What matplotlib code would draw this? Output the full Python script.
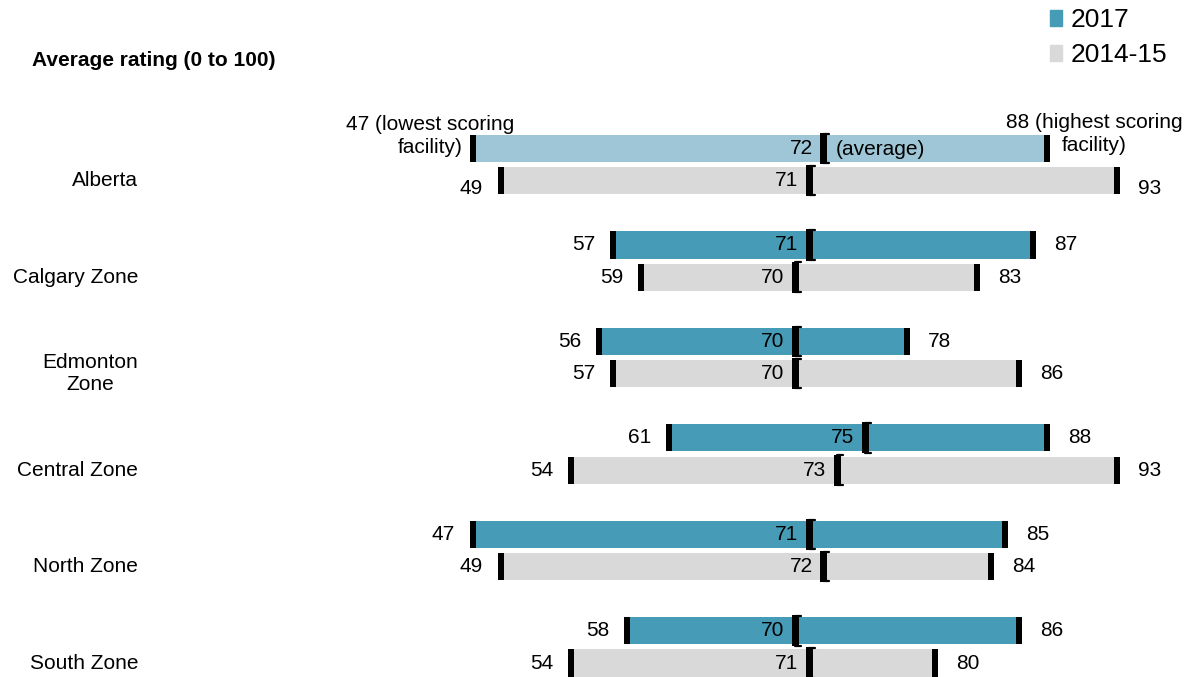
import matplotlib
matplotlib.use("Agg")
import matplotlib.pyplot as plt
import matplotlib.transforms as mtransforms
from matplotlib.patches import Rectangle, Patch

plt.rcParams['font.family'] = ['Liberation Sans', 'DejaVu Sans']

zones = ['Alberta', 'Calgary Zone', 'Edmonton\nZone', 'Central Zone', 'North Zone', 'South Zone']

# lowest facility, average, highest facility
low_2017 = [47, 57, 56, 61, 47, 58]
avg_2017 = [72, 71, 70, 75, 71, 70]
high_2017 = [88, 87, 78, 88, 85, 86]

low_1415 = [49, 59, 57, 54, 49, 54]
avg_1415 = [71, 70, 70, 73, 72, 71]
high_1415 = [93, 83, 86, 93, 84, 80]

BLUE = '#469bb7'
LIGHT_BLUE = '#9ec6d6'
GREY = '#d9d9d9'

fig = plt.figure(figsize=(11.94, 6.77), dpi=100)
ax = fig.add_axes([0, 0, 1, 1])
ax.set_xlim(13.214, 98.5)
ax.set_ylim(5.477, -1.539)
ax.axis('off')

bar_h = 0.28
offset = 0.332
px_x = 1 / 14.0      # data units per pixel, x
px_y = 1 / 96.5      # data units per pixel, y


def draw_row(y, lo, av, hi, color):
    ax.barh(y, hi - lo, left=lo, height=bar_h, color=color, edgecolor='none', zorder=1)
    mw = 6.5 * px_x
    for v in (lo, hi):
        ax.add_patch(Rectangle((v - mw / 2, y - bar_h / 2), mw, bar_h,
                               color='black', zorder=3, lw=0))
    # average bracket
    bw = 7 * px_x
    bh = bar_h + 4 * px_y
    ax.add_patch(Rectangle((av - bw / 2, y - bh / 2), bw, bh,
                           color='black', zorder=3, lw=0))
    for yy in (y - bh / 2 + 0.8 * px_y, y + bh / 2 - 0.8 * px_y):
        ax.plot([av, av + bw / 2 + 2.5 * px_x], [yy, yy], color='black',
                lw=1.6, solid_capstyle='round', zorder=3)


fs = 15
for i in range(len(zones)):
    y17 = i
    y14 = i + offset
    c17 = LIGHT_BLUE if i == 0 else BLUE
    draw_row(y17, low_2017[i], avg_2017[i], high_2017[i], c17)
    draw_row(y14, low_1415[i], avg_1415[i], high_1415[i], GREY)

    dy = -6 if i == 0 else 0
    if i == 0:
        ax.annotate(f'{low_2017[i]} (lowest scoring\nfacility)', (low_2017[i], y17),
                    xytext=(-31, 9), textcoords='offset points', ha='center', va='center',
                    fontsize=fs, linespacing=1.3)
        ax.annotate(f'{high_2017[i]} (highest scoring\nfacility)', (high_2017[i], y17),
                    xytext=(34, 10.5), textcoords='offset points', ha='center', va='center',
                    fontsize=fs, linespacing=1.3)
        ax.annotate('(average)', (avg_2017[i], y17), xytext=(9.5, -1), textcoords='offset points',
                    ha='left', va='center', fontsize=fs)
    else:
        ax.annotate(str(low_2017[i]), (low_2017[i], y17), xytext=(-13, 0),
                    textcoords='offset points', ha='right', va='center', fontsize=fs)
        ax.annotate(str(high_2017[i]), (high_2017[i], y17), xytext=(15, 0),
                    textcoords='offset points', ha='left', va='center', fontsize=fs)
    ax.annotate(str(avg_2017[i]), (avg_2017[i], y17), xytext=(-7.5, 0),
                textcoords='offset points', ha='right', va='center', fontsize=fs)

    ax.annotate(str(low_1415[i]), (low_1415[i], y14), xytext=(-13, dy),
                textcoords='offset points', ha='right', va='center', fontsize=fs)
    ax.annotate(str(high_1415[i]), (high_1415[i], y14), xytext=(15, dy),
                textcoords='offset points', ha='left', va='center', fontsize=fs)
    ax.annotate(str(avg_1415[i]), (avg_1415[i], y14), xytext=(-7.5, 0),
                textcoords='offset points', ha='right', va='center', fontsize=fs)

# zone names, right aligned in the left margin
trans = mtransforms.blended_transform_factory(fig.transFigure, ax.transData)
for i, name in enumerate(zones):
    ax.text(138 / 1194, i + offset, name, transform=trans, ha='right', va='center',
            multialignment='center', fontsize=fs, linespacing=1.25)

fig.text(32 / 1194, 1 - 60 / 677, 'Average rating (0 to 100)', fontsize=15,
         fontweight='bold', ha='left', va='center')

handles = [Patch(color=BLUE, label='2017'), Patch(color=GREY, label='2014-15')]
fig.legend(handles=handles, loc='upper left', bbox_to_anchor=(1050 / 1194, 1 - 8 / 677),
           frameon=False, fontsize=19, handlelength=0.45, handleheight=0.55,
           handletextpad=0.35, labelspacing=0.42, borderpad=0, borderaxespad=0)

fig.savefig('out.png', dpi=100)
